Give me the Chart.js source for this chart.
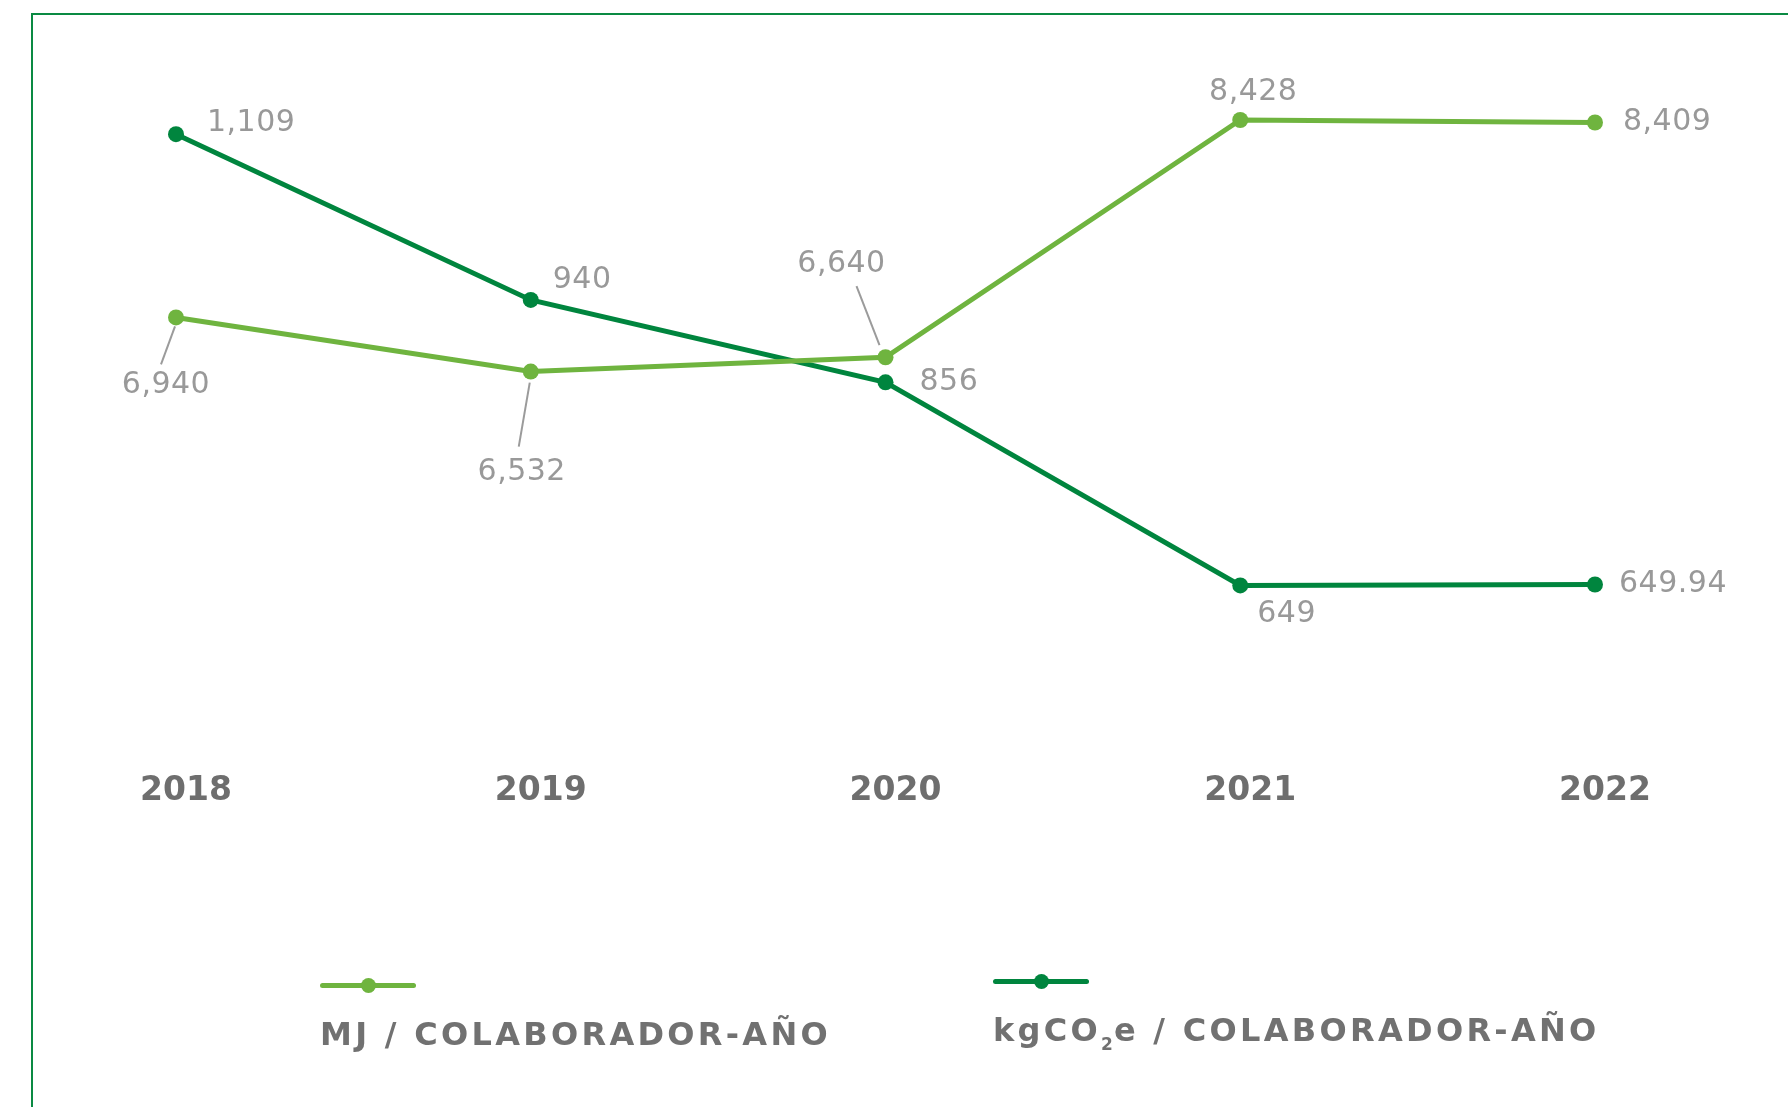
<!DOCTYPE html>
<html>
<head>
<meta charset="utf-8">
<script src="https://cdn.jsdelivr.net/npm/chart.js@4.4.1/dist/chart.umd.min.js"></script>
<style>
  html, body { margin: 0; padding: 0; background: #fff; }
  #wrap { position: relative; width: 1788px; height: 1107px; overflow: hidden; }
  #frame { position: absolute; left: 31px; top: 13px; width: 1800px; height: 1200px;
           border-left: 2px solid #0a8a43; border-top: 2px solid #0a8a43; }
  #chart { position: absolute; left: 0; top: 0; }
  .leg-line { position: absolute; height: 5px; width: 96px; border-radius: 3px; }
  .leg-dot { position: absolute; width: 15px; height: 15px; border-radius: 50%; }
  .leg-text { position: absolute; font-family: 'DejaVu Sans'; font-weight: bold; font-size: 32px;
              letter-spacing: 3.3px; color: #717171; line-height: 32px; white-space: nowrap; }
  .leg-text .sub { font-size: 17px; position: relative; top: 9px; letter-spacing: 1px; }
</style>
</head>
<body>
<div id="wrap">
  <div id="frame"></div>
  <canvas id="chart" width="1788" height="1107"></canvas>
</div>
<script>
const years = ['2018', '2019', '2020', '2021', '2022'];
const energyPerEmployee = [6940, 6532, 6640, 8428, 8409];
const emissionsPerEmployee = [1109, 940, 856, 649, 649.94];
const seriesNames = ['MJ / COLABORADOR-AÑO', 'kgCO₂e / COLABORADOR-AÑO'];

const lightGreen = '#6fb43f';
const darkGreen = '#00853e';

// where each value label sits relative to its point (and optional leader line)
const labelLayout = [
  [
    { dx: -10, dy: 68, align: 'center', lead: [-1, 9, -15, 47] },
    { dx: -9, dy: 101, align: 'center', lead: [-1, 11, -12, 75] },
    { dx: -44, dy: -93, align: 'center', lead: [-6, -12, -29, -71] },
    { dx: 13, dy: -28, align: 'center' },
    { dx: 28, dy: 0, align: 'left' }
  ],
  [
    { dx: 31, dy: -11, align: 'left' },
    { dx: 22, dy: -20, align: 'left' },
    { dx: 34, dy: 0, align: 'left' },
    { dx: 17, dy: 29, align: 'left' },
    { dx: 24, dy: 0, align: 'left' }
  ]
];

const fmt = v => v.toLocaleString('en-US', { maximumFractionDigits: 2 });

const pointLabels = {
  id: 'pointLabels',
  afterDatasetsDraw(chart) {
    const ctx = chart.ctx;
    ctx.save();
    ctx.font = '30px "DejaVu Sans"';
    ctx.letterSpacing = '0.5px';
    ctx.fillStyle = '#999999';
    ctx.strokeStyle = '#9b9b9b';
    ctx.lineWidth = 2;
    ctx.textBaseline = 'middle';
    chart.data.datasets.forEach((ds, i) => {
      chart.getDatasetMeta(i).data.forEach((pt, j) => {
        const s = labelLayout[i][j];
        if (s.lead) {
          ctx.beginPath();
          ctx.moveTo(pt.x + s.lead[0], pt.y + s.lead[1]);
          ctx.lineTo(pt.x + s.lead[2], pt.y + s.lead[3]);
          ctx.stroke();
        }
        ctx.textAlign = s.align;
        ctx.fillText(fmt(ds.data[j]), pt.x + s.dx, pt.y + s.dy);
      });
    });
    ctx.restore();
  }
};

const chart = new Chart(document.getElementById('chart'), {
  type: 'line',
  data: {
    labels: years,
    datasets: [
      {
        label: seriesNames[0],
        data: energyPerEmployee,
        yAxisID: 'yEnergy',
        borderColor: lightGreen,
        backgroundColor: lightGreen,
        borderWidth: 5,
        pointRadius: 8,
        pointHoverRadius: 8,
        pointBorderWidth: 0,
        tension: 0,
        clip: false
      },
      {
        label: seriesNames[1],
        data: emissionsPerEmployee,
        yAxisID: 'yEmissions',
        borderColor: darkGreen,
        backgroundColor: darkGreen,
        borderWidth: 5,
        pointRadius: 8,
        pointHoverRadius: 8,
        pointBorderWidth: 0,
        tension: 0,
        clip: false
      }
    ]
  },
  options: {
    responsive: false,
    animation: false,
    layout: { padding: { left: 176, right: 193, top: 40, bottom: 265 } },
    plugins: { legend: { display: false }, tooltip: { enabled: false } },
    scales: {
      x: {
        offset: false,
        grid: { display: false, drawTicks: false },
        border: { display: false },
        ticks: {
          color: '#6e6e6e',
          font: { family: 'DejaVu Sans', weight: 'bold', size: 33 },
          padding: 31,
          labelOffset: 10
        }
      },
      yEnergy: { type: 'linear', position: 'left', display: false, min: 3752, max: 9031 },
      yEmissions: { type: 'linear', position: 'right', display: false, min: 491, max: 1205 }
    }
  },
  plugins: [pointLabels]
});

// legend: line with dot above the series name
const legendSpots = [{ x: 320, y: 985 }, { x: 993, y: 981 }];
const wrap = document.getElementById('wrap');
chart.data.datasets.forEach((ds, i) => {
  const p = legendSpots[i];
  const line = document.createElement('div');
  line.className = 'leg-line';
  line.style.left = p.x + 'px';
  line.style.top = (p.y - 2.5) + 'px';
  line.style.background = ds.borderColor;
  const dot = document.createElement('div');
  dot.className = 'leg-dot';
  dot.style.left = (p.x + 48 - 7.5) + 'px';
  dot.style.top = (p.y - 7.5) + 'px';
  dot.style.background = ds.borderColor;
  const text = document.createElement('div');
  text.className = 'leg-text';
  text.style.left = p.x + 'px';
  text.style.top = (p.y + 48 - 15) + 'px';
  text.innerHTML = ds.label.replace('₂', '<span class="sub">2</span>');
  wrap.appendChild(line);
  wrap.appendChild(dot);
  wrap.appendChild(text);
});
</script>
</body>
</html>
